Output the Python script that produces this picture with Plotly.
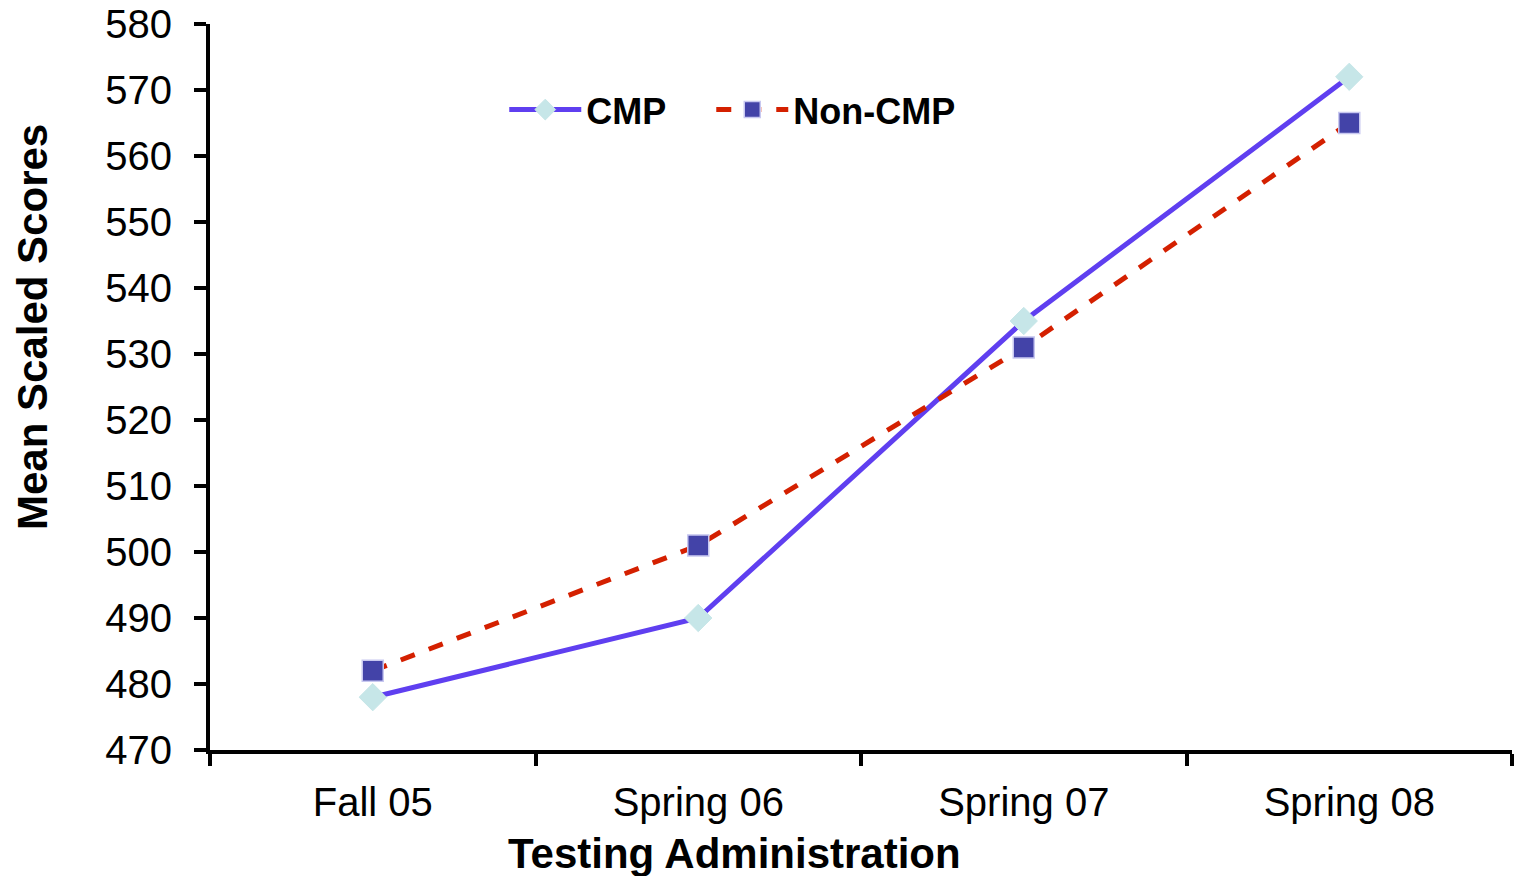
import plotly.graph_objects as go

categories = ["Fall 05", "Spring 06", "Spring 07", "Spring 08"]
cmp_scores = [478, 490, 535, 572]
noncmp_scores = [482, 501, 531, 565]
y_ticks = [470, 480, 490, 500, 510, 520, 530, 540, 550, 560, 570, 580]

fig = go.Figure()
fig.add_trace(go.Scatter(
    x=categories, y=cmp_scores, name="CMP\u00a0\u00a0\u00a0\u00a0", mode="lines+markers",
    line=dict(color="#5f3ff0", width=5),
    marker=dict(symbol="diamond", size=21, color="#c6e6e8",
                line=dict(color="#c6e6e8", width=1)),
))
fig.add_trace(go.Scatter(
    x=categories, y=noncmp_scores, name="Non-CMP", mode="lines+markers",
    line=dict(color="#d42000", width=5, dash="dash"),
    marker=dict(symbol="square", size=21, color="#4343a8",
                line=dict(color="#c8c8f0", width=1.5)),
))

fig.update_layout(
    width=1522, height=876,
    margin=dict(l=210, r=10, t=24, b=126, autoexpand=False),
    paper_bgcolor="white", plot_bgcolor="white",
    font=dict(family="Liberation Sans, Arial, sans-serif", color="black", size=40),
    showlegend=True,
    legend=dict(orientation="h", x=0.226, y=0.882, xanchor="left", yanchor="middle",
                font=dict(size=36, family="Liberation Sans, Arial, sans-serif", weight="bold"),
                bgcolor="rgba(0,0,0,0)", itemwidth=72),
    xaxis=dict(
        type="category", range=[-0.5, 3.5], tickson="boundaries",
        showline=True, linecolor="black", linewidth=4,
        ticks="outside", ticklen=12, tickwidth=4, tickcolor="black",
        showgrid=False, zeroline=False, automargin=False,
        tickfont=dict(size=40), ticklabelstandoff=14,
    ),
    yaxis=dict(
        range=[470, 580], tickvals=y_ticks,
        showline=True, linecolor="black", linewidth=4,
        ticks="outside", ticklen=12, tickwidth=4, tickcolor="black",
        showgrid=False, zeroline=False, automargin=False,
        tickfont=dict(size=40), ticklabelstandoff=14,
    ),
)

fig.add_annotation(
    text="<b>Testing Administration</b>", xref="paper", yref="paper",
    x=(734 - 210) / 1302, y=-(853 - 750) / 726, xanchor="center", yanchor="middle",
    showarrow=False, font=dict(size=42, color="black"),
)
fig.add_annotation(
    text="<b>Mean Scaled Scores</b>", xref="paper", yref="paper",
    x=-(210 - 32) / 1302, y=(750 - 327) / 726, xanchor="center", yanchor="middle",
    textangle=-90, showarrow=False, font=dict(size=42, color="black"),
)

fig.write_html("out.html")
